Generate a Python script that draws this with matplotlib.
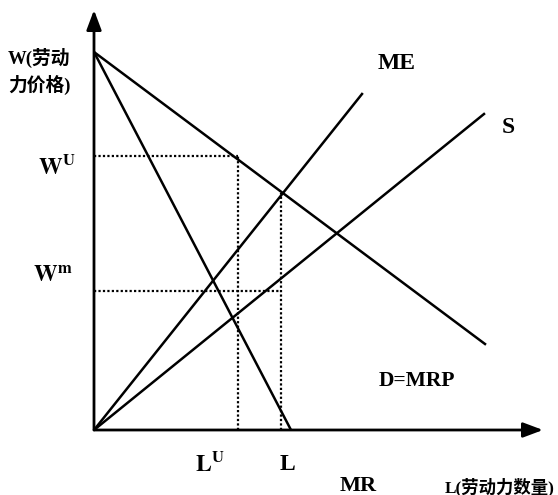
import matplotlib
matplotlib.use("Agg")
import matplotlib.pyplot as plt

plt.rcParams['font.family'] = ['Liberation Serif', 'Noto Sans CJK SC']
plt.rcParams['font.weight'] = 'bold'
plt.rcParams['mathtext.fontset'] = 'stix'

# curve end points (x = labour, y = wage), origin at 0,0
w_max = 378
d_line_x = [0, 391]
d_line_y = [w_max, 86]
mr_line_x = [0, 197]
mr_line_y = [w_max, 0]
me_line_x = [0, 268]
me_line_y = [0, 336]
s_line_x = [0, 390]
s_line_y = [0, 316]

# levels marked with dotted guides
w_u, l_u = 274, 144
w_m, l_eq = 139, 187
l_top = 237  # where ME meets D above L

x_max, y_max = 449, 420

fig = plt.figure(figsize=(5.58, 4.95), dpi=100)
ax = fig.add_axes([94/558, 65/495, 449/558, 420/495])
ax.set_xlim(0, x_max)
ax.set_ylim(0, y_max)
ax.axis('off')

# axes with arrow heads
arrow = dict(arrowstyle='-|>,head_length=1.2,head_width=0.45', color='black', lw=2,
             shrinkA=0, shrinkB=0)
ax.annotate('', xy=(x_max, 0), xytext=(0, 0), arrowprops=arrow, annotation_clip=False)
ax.annotate('', xy=(0, y_max), xytext=(0, 0), arrowprops=arrow, annotation_clip=False)

lw = 1.8
ax.plot(d_line_x, d_line_y, color='black', lw=lw)
ax.plot(mr_line_x, mr_line_y, color='black', lw=lw)
ax.plot(me_line_x, me_line_y, color='black', lw=lw)
ax.plot(s_line_x, s_line_y, color='black', lw=lw)

# dotted guides
dot = dict(color='black', lw=1.6, ls=(0, (1, 1)))
ax.plot([0, l_u], [w_u, w_u], **dot)
ax.plot([l_u, l_u], [0, w_u], **dot)
ax.plot([0, l_eq], [w_m, w_m], **dot)
ax.plot([l_eq, l_eq], [0, l_top], **dot)

kw = dict(fontweight='bold', clip_on=False)
ax.text(-86, 372, 'W(劳动', fontsize=13.5, ha='left', va='center', **kw)
ax.text(-86, 345, '力价格)', fontsize=13.5, ha='left', va='center', **kw)
ax.text(-37, 263, r'$\mathbf{W}^{\mathrm{U}}$', fontsize=17, ha='center', va='center', **kw)
ax.text(-41, 153, r'$\mathbf{W}^{\mathbf{m}}$', fontsize=17, ha='center', va='center', **kw)
ax.text(303, 366, 'ME', fontsize=17, ha='center', va='center', **kw)
ax.text(414, 302, 'S', fontsize=17, ha='center', va='center', **kw)
ax.text(323, 49, 'D=MRP', fontsize=15.5, ha='center', va='center', **kw)
ax.text(116, -34, r'$\mathbf{L}^{\mathrm{U}}$', fontsize=17, ha='center', va='center', **kw)
ax.text(193, -34, 'L', fontsize=17, ha='center', va='center', **kw)
ax.text(264, -56, 'MR', fontsize=16, ha='center', va='center', **kw)
ax.text(461, -57, 'L(劳动力数量)', fontsize=12.5, ha='right', va='center', **kw)

fig.savefig('out.png', dpi=100)
